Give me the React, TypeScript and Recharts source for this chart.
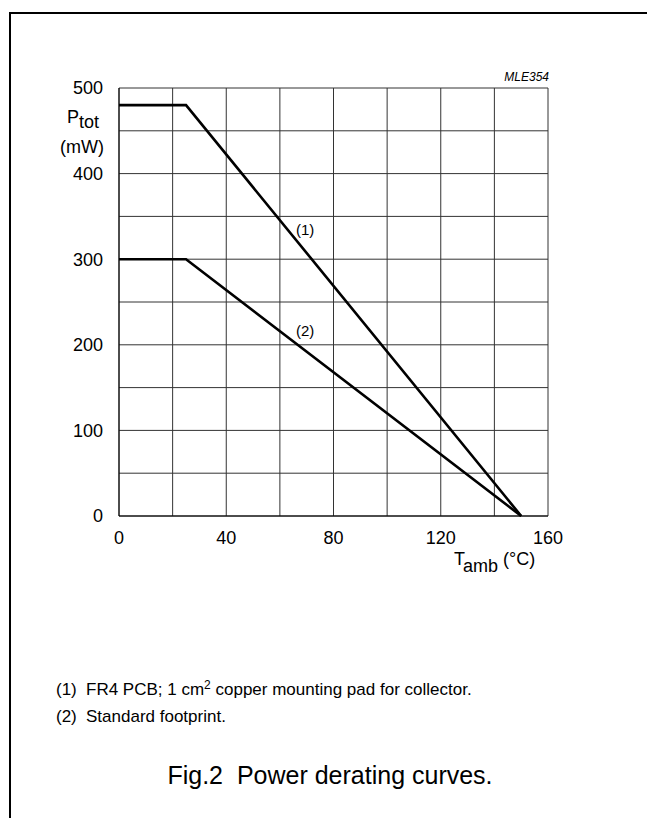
import React from 'react'
import { CartesianGrid, Line, LineChart, ReferenceDot, XAxis, YAxis } from 'recharts'

if (typeof document !== 'undefined') document.body.style.margin = '0'

const FONT = '"Liberation Sans", Arial, sans-serif'

// derating curves: ambient temperature (°C) vs total power (mW)
const curve1 = [
  { t: 0, p: 480 },
  { t: 25, p: 480 },
  { t: 150, p: 0 },
]
const curve2 = [
  { t: 0, p: 300 },
  { t: 25, p: 300 },
  { t: 150, p: 0 },
]
const xTicks = [0, 20, 40, 60, 80, 100, 120, 140, 160]
const yTicks = [0, 50, 100, 150, 200, 250, 300, 350, 400, 450, 500]
const curveLabels = [
  { t: 69.4, p: 335, text: '(1)' },
  { t: 69.4, p: 216, text: '(2)' },
]

export default function App() {
  return (
    <div style={{ position: 'relative', width: 647, height: 818, background: '#fff', fontFamily: FONT, color: '#000' }}>
      <div style={{ position: 'absolute', left: 9, top: 12, width: 638, height: 806, borderLeft: '2px solid #000', borderTop: '2px solid #000' }} />
      <LineChart width={647} height={818} margin={{ top: 88, right: 99, left: 59, bottom: 272 }} style={{ position: 'absolute', left: 0, top: 0 }}>
        <CartesianGrid stroke="#333" strokeWidth={1} />
        <XAxis
          type="number"
          dataKey="t"
          domain={[0, 160]}
          ticks={xTicks}
          interval={0}
          tickLine={false}
          axisLine={{ stroke: '#000' }}
          height={30}
          tick={{ fontSize: 18, fill: '#000', fontFamily: FONT }}
          tickFormatter={(v) => (v % 40 === 0 ? String(v) : '')}
          tickMargin={9}
        />
        <YAxis
          type="number"
          dataKey="p"
          domain={[0, 500]}
          ticks={yTicks}
          interval={0}
          tickLine={false}
          axisLine={{ stroke: '#000' }}
          width={60}
          tick={{ fontSize: 18, fill: '#000', fontFamily: FONT }}
          tickFormatter={(v) => (v % 100 === 0 ? String(v) : '')}
          tickMargin={10}
        />
        <Line data={curve1} dataKey="p" type="linear" stroke="#000" strokeWidth={2.6} dot={false} isAnimationActive={false} />
        <Line data={curve2} dataKey="p" type="linear" stroke="#000" strokeWidth={2.6} dot={false} isAnimationActive={false} />
        {curveLabels.map((l) => (
          <ReferenceDot
            key={l.text}
            x={l.t}
            y={l.p}
            r={0}
            fill="none"
            stroke="none"
            label={{ value: l.text, position: 'center', fontSize: 15, fill: '#000', fontFamily: FONT }}
          />
        ))}
      </LineChart>
      <div style={{ position: 'absolute', right: 647 - 549, top: 70, fontSize: 12, lineHeight: '14px', fontStyle: 'italic' }}>MLE354</div>
      <div style={{ position: 'absolute', left: 67, top: 108, fontSize: 18, lineHeight: '18px', whiteSpace: 'pre' }}>
        P<span style={{ position: 'relative', top: 5 }}>tot</span>
      </div>
      <div style={{ position: 'absolute', left: 60, top: 138, fontSize: 18, lineHeight: '18px' }}>(mW)</div>
      <div style={{ position: 'absolute', left: 454, top: 550, fontSize: 18, lineHeight: '18px', whiteSpace: 'pre' }}>
        T<span style={{ position: 'relative', top: 7 }}>amb</span> (°C)
      </div>
      <div style={{ position: 'absolute', left: 56, top: 681, fontSize: 17, lineHeight: '17px', whiteSpace: 'pre' }}>(1)</div>
      <div style={{ position: 'absolute', left: 86, top: 681, fontSize: 17, lineHeight: '17px', whiteSpace: 'pre' }}>
        FR4 PCB; 1 cm<span style={{ fontSize: 12, position: 'relative', top: -6 }}>2</span> copper mounting pad for collector.
      </div>
      <div style={{ position: 'absolute', left: 56, top: 708, fontSize: 17, lineHeight: '17px', whiteSpace: 'pre' }}>(2)</div>
      <div style={{ position: 'absolute', left: 86, top: 708, fontSize: 17, lineHeight: '17px', whiteSpace: 'pre' }}>
        Standard footprint.
      </div>
      <div style={{ position: 'absolute', left: 0, width: 660, top: 763, textAlign: 'center', fontSize: 25, lineHeight: '25px', whiteSpace: 'pre' }}>
        Fig.2  Power derating curves.
      </div>
    </div>
  )
}
